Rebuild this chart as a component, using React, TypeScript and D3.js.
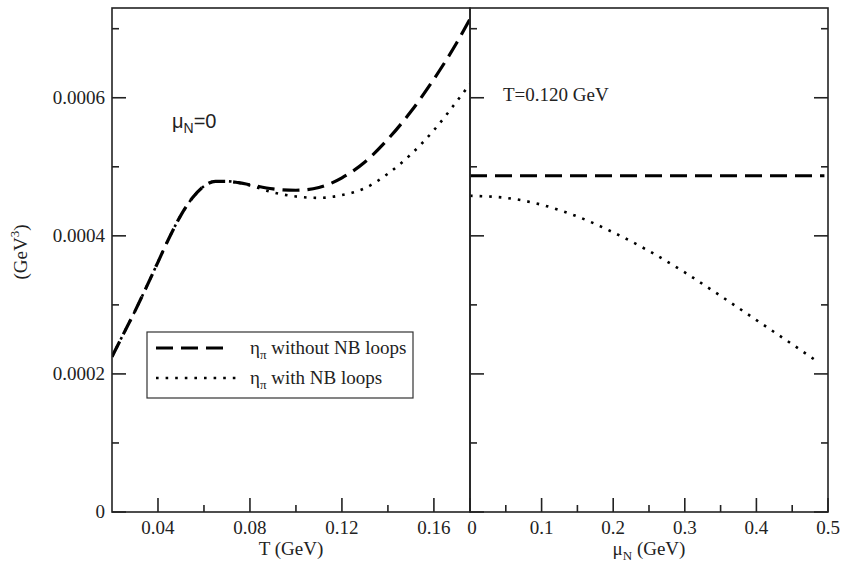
import React from "react";
import * as d3 from "d3";

// ---- data ----
const leftT = [0.02, 0.025, 0.03, 0.035, 0.04, 0.045, 0.05, 0.055, 0.06, 0.065, 0.07, 0.075, 0.08, 0.09, 0.10, 0.11, 0.12, 0.13, 0.14, 0.15, 0.16, 0.17, 0.1757];
const leftWithout = [0.000225, 0.000258, 0.000291, 0.000326, 0.000362, 0.000398, 0.00043, 0.000455, 0.000472, 0.000479, 0.000479, 0.000477, 0.000474, 0.000468, 0.000466, 0.00047, 0.000484, 0.000507, 0.00054, 0.00058, 0.000627, 0.00068, 0.000714];
const leftWith = [0.000225, 0.000258, 0.000291, 0.000326, 0.000362, 0.000398, 0.00043, 0.000455, 0.000472, 0.000479, 0.000479, 0.000477, 0.000473, 0.000463, 0.000457, 0.000455, 0.000459, 0.000469, 0.00049, 0.000518, 0.000553, 0.000595, 0.00062];

const rightMuDashed = [0, 0.495];
const rightWithout = [0.000487, 0.000487];
const rightMu = [0, 0.05, 0.1, 0.15, 0.2, 0.25, 0.3, 0.35, 0.4, 0.45, 0.485];
const rightWith = [0.000458, 0.000455, 0.000445, 0.000428, 0.000405, 0.000378, 0.000347, 0.000313, 0.000278, 0.000243, 0.000218];

const yMajor = [0, 0.0002, 0.0004, 0.0006];
const yMinor = [0.0001, 0.0003, 0.0005, 0.0007];
const yLabels = ["0", "0.0002", "0.0004", "0.0006"];
const leftMajor = [0.04, 0.08, 0.12, 0.16];
const leftMinor = [0.06, 0.1, 0.14];
const leftLabels = ["0.04", "0.08", "0.12", "0.16"];
const rightMajor = [0, 0.1, 0.2, 0.3, 0.4, 0.5];
const rightMinor = [0.05, 0.15, 0.25, 0.35, 0.45];
const rightLabels = ["0", "0.1", "0.2", "0.3", "0.4", "0.5"];
const legendLabels = [" without NB loops", " with NB loops"];

// ---- layout ----
const W = 856, H = 565;
const top = 8, bottom = 512;
const lx0 = 112, lx1 = 470, rx0 = 470, rx1 = 828;
const MAJ = 14, MIN = 7;
const serif = "'Liberation Serif', 'DejaVu Serif', serif";
const sans = "'Liberation Sans', Arial, sans-serif";

export default function App() {
  const y = d3.scaleLinear().domain([0, 0.00073]).range([bottom, top]);
  const xl = d3.scaleLinear().domain([0.02, 0.1757]).range([lx0, lx1]);
  const xr = d3.scaleLinear().domain([0, 0.5]).range([rx0, rx1]);

  const lineL = d3.line<number>().x((_, i) => xl(leftT[i])).y((d) => y(d)).curve(d3.curveMonotoneX);
  const lineR = d3.line<number>().x((_, i) => xr(rightMu[i])).y((d) => y(d)).curve(d3.curveMonotoneX);
  const lineRD = d3.line<number>().x((_, i) => xr(rightMuDashed[i])).y((d) => y(d));

  const dash = { fill: "none", stroke: "#000", strokeWidth: 3.2, strokeDasharray: "17 8" };
  const dot = { fill: "none", stroke: "#000", strokeWidth: 2.6, strokeDasharray: "2.6 7", strokeLinecap: "butt" as const };
  const axis = { stroke: "#222", strokeWidth: 1.6 };

  const yTicks = (x: number, dir: number) => (
    <g>
      {yMajor.map((v) => (
        <line key={"M" + v} x1={x} x2={x + dir * MAJ} y1={y(v)} y2={y(v)} {...axis} />
      ))}
      {yMinor.map((v) => (
        <line key={"m" + v} x1={x} x2={x + dir * MIN} y1={y(v)} y2={y(v)} {...axis} />
      ))}
    </g>
  );

  return (
    <svg width={W} height={H} style={{ position: "absolute", left: 0, top: 0, background: "#fff" }}>
      <rect x={0} y={0} width={W} height={H} fill="#fff" />
      <defs>
        <clipPath id="cl"><rect x={lx0} y={top} width={lx1 - lx0} height={bottom - top} /></clipPath>
        <clipPath id="cr"><rect x={rx0} y={top} width={rx1 - rx0} height={bottom - top} /></clipPath>
      </defs>

      {/* curves */}
      <g clipPath="url(#cl)">
        <path d={lineL(leftWith) || ""} {...dot} />
        <path d={lineL(leftWithout) || ""} {...dash} />
      </g>
      <g clipPath="url(#cr)">
        <path d={lineRD(rightWithout) || ""} {...dash} />
        <path d={lineR(rightWith) || ""} {...dot} />
      </g>

      {/* frames */}
      <rect x={lx0} y={top} width={lx1 - lx0} height={bottom - top} fill="none" {...axis} />
      <rect x={rx0} y={top} width={rx1 - rx0} height={bottom - top} fill="none" {...axis} />

      {/* ticks */}
      {yTicks(lx0, 1)}
      {yTicks(rx0, 1)}
      {yTicks(rx1, -1)}
      {leftMajor.map((v) => (
        <line key={"lx" + v} x1={xl(v)} x2={xl(v)} y1={bottom} y2={bottom - MAJ} {...axis} />
      ))}
      {leftMinor.map((v) => (
        <line key={"lxm" + v} x1={xl(v)} x2={xl(v)} y1={bottom} y2={bottom - MIN} {...axis} />
      ))}
      {rightMajor.map((v) => (
        <line key={"rx" + v} x1={xr(v)} x2={xr(v)} y1={bottom} y2={bottom - MAJ} {...axis} />
      ))}
      {rightMinor.map((v) => (
        <line key={"rxm" + v} x1={xr(v)} x2={xr(v)} y1={bottom} y2={bottom - MIN} {...axis} />
      ))}

      {/* tick labels */}
      <g fontFamily={serif} fontSize={19} fill="#222">
        {yMajor.map((v, i) => (
          <text key={"yl" + v} x={lx0 - 7} y={y(v) + 6} textAnchor="end">{yLabels[i]}</text>
        ))}
        {leftMajor.map((v, i) => (
          <text key={"ll" + v} x={xl(v)} y={534} textAnchor="middle">{leftLabels[i]}</text>
        ))}
        {rightMajor.map((v, i) => (
          <text key={"rl" + v} x={xr(v) + (i === 0 ? 2 : 0)} y={534} textAnchor="middle">{rightLabels[i]}</text>
        ))}
        <text x={(lx0 + lx1) / 2} y={555} textAnchor="middle">T (GeV)</text>
        <text x={(rx0 + rx1) / 2} y={555} textAnchor="middle">
          μ<tspan fontSize={13} dy={5}>N</tspan><tspan dy={-5}> (GeV)</tspan>
        </text>
        <text transform="translate(27,252) rotate(-90)" textAnchor="middle">
          (GeV<tspan fontSize={13} dy={-8}>3</tspan><tspan dy={8}>)</tspan>
        </text>
        <text x={503} y={101}>T=0.120 GeV</text>
      </g>

      <text x={172} y={128} fontFamily={sans} fontSize={20} fill="#222">
        μ<tspan fontSize={14} dy={5}>N</tspan><tspan dy={-5}>=0</tspan>
      </text>

      {/* legend */}
      <rect x={147} y={332} width={266} height={66} fill="#fff" stroke="#333" strokeWidth={1.2} />
      <line x1={156} x2={225} y1={348} y2={348} {...dash} />
      <line x1={156} x2={236} y1={378} y2={378} {...dot} />
      <g fontFamily={serif} fontSize={19} fill="#222">
        {legendLabels.map((t, i) => (
          <text key={t} x={250} y={354 + i * 30}>
            η<tspan fontSize={13} dy={5}>π</tspan><tspan dy={-5}>{t}</tspan>
          </text>
        ))}
      </g>
    </svg>
  );
}
